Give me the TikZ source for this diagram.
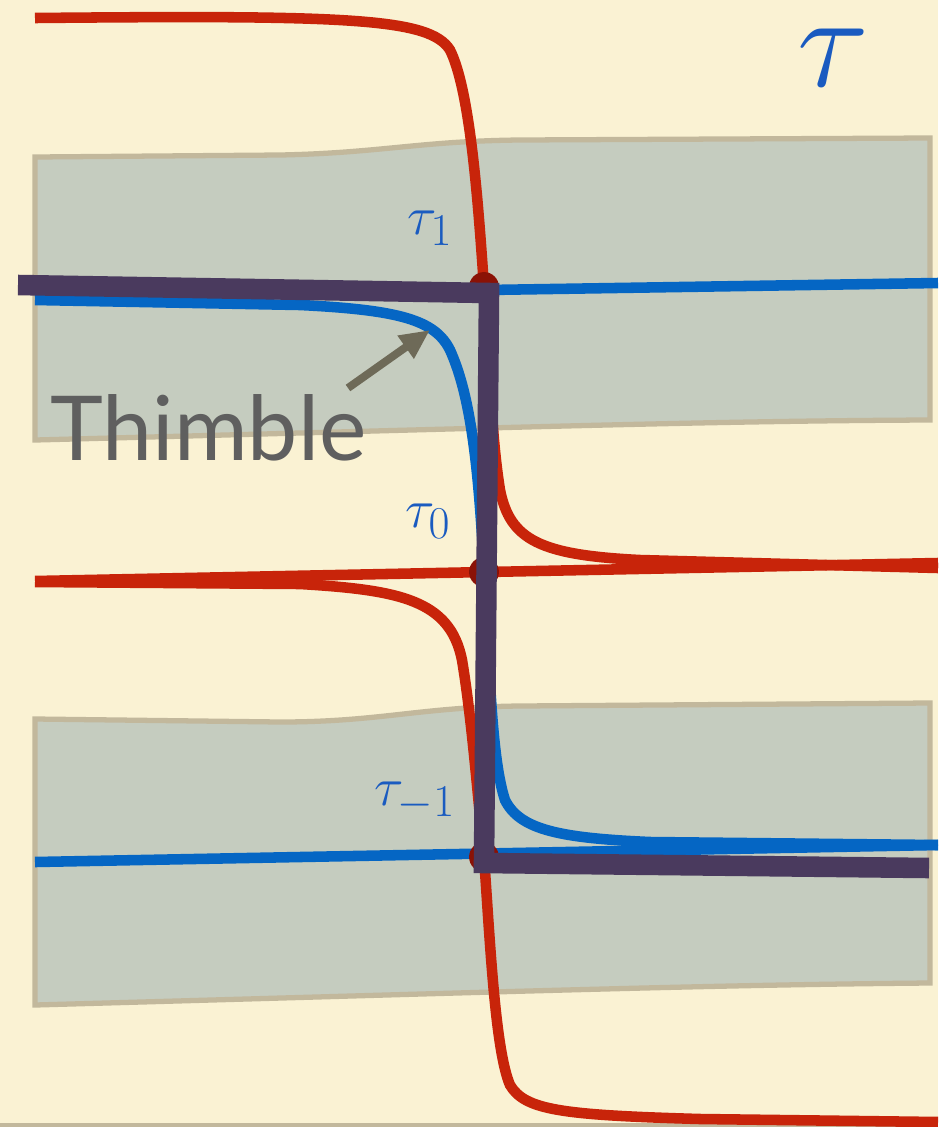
\documentclass[tikz,border=0pt]{standalone}
\usepackage{fontspec}
\usepackage{tikz}
\usetikzlibrary{arrows.meta}
\newfontfamily\thimblefont{Lato}
\definecolor{paperbg}{HTML}{FAF2D3}
\definecolor{bandfill}{HTML}{C5CCBF}
\definecolor{bandline}{HTML}{C2B89C}
\definecolor{flowred}{HTML}{C8240A}
\definecolor{flowblue}{HTML}{0566C4}
\definecolor{saddlered}{HTML}{8A1206}
\definecolor{cycleviolet}{HTML}{4A3A5E}
\definecolor{taublue}{HTML}{1A5BC0}
\definecolor{notegray}{HTML}{5F5F5F}
\definecolor{pointer}{HTML}{6E6A58}

\begin{document}
\begin{tikzpicture}[
  x=0.02cm, y=-0.02cm,
  band/.style={fill=bandfill, draw=bandline, line width=3pt, line join=miter},
  redCurve/.style={draw=flowred, line width=6pt},
  blueCurve/.style={draw=flowblue, line width=6pt},
  cycleLine/.style={draw=cycleviolet, line width=11.7pt, line join=miter, line cap=butt},
  saddle/.style={circle, fill=saddlered, inner sep=0pt, minimum size=17pt},
  tauLabel/.style={text=taublue, inner sep=0pt, font=\Huge, scale=1.25},
  arrow/.style={-{Triangle[length=17pt,width=15pt]}, line width=4.5pt, draw=pointer}
]
% Paper
\useasboundingbox (0,0) rectangle (938,1127);
\fill[paperbg] (0,0) rectangle (938,1127);
\fill[bandline] (0,1123) rectangle (938,1127);

% Strips
\draw[band] (35,157) -- (280,155) .. controls (380,153) and (420,141) .. (520,140)
  -- (930,138) -- (930,420) .. controls (700,421) and (500,428) .. (35,440) -- cycle;
\draw[band] (35,719) -- (280,722) .. controls (380,722) and (420,707) .. (520,706)
  -- (930,703) -- (930,983) .. controls (700,985) and (500,992) .. (35,1005) -- cycle;

% Red flows
\draw[redCurve] (35,18) .. controls (350,15) and (430,18) .. (450,50)
  .. controls (470,90) and (478,200) .. (484,287)
  .. controls (490,380) and (492,440) .. (500,490)
  .. controls (510,540) and (540,555) .. (640,560) -- (938,568);
\draw[redCurve] (35,581) -- (938,563);
\draw[redCurve] (35,582) -- (300,584) .. controls (400,590) and (450,600) .. (462,660)
  .. controls (472,720) and (478,800) .. (484,857)
  .. controls (490,940) and (495,1050) .. (510,1085)
  .. controls (525,1110) and (560,1115) .. (700,1119) -- (938,1122);

% Blue flows
\draw[blueCurve] (35,297) -- (938,283);
\draw[blueCurve] (35,300) -- (300,305) .. controls (400,310) and (435,320) .. (450,350)
  .. controls (468,390) and (478,450) .. (484,572)
  .. controls (490,680) and (492,760) .. (505,800)
  .. controls (520,830) and (560,838) .. (650,842) -- (938,845);
\draw[blueCurve] (35,862) -- (938,845);

% Saddles
\node[saddle] (t1) at (484,287) {};
\node[saddle] (t0) at (484,572) {};
\node[saddle] (tm1) at (484,857) {};

% Integration cycle
\draw[cycleLine] (18,285) -- (489,293) -- (484,863) -- (929,868);

% Labels
\node[tauLabel] (l1) at (430,228) {$\tau_1$};
\node[tauLabel] (l0) at (428,521) {$\tau_0$};
\node[tauLabel] (lm1) at (415,801) {$\tau_{-1}$};
\node[text=taublue, inner sep=0pt, font=\Huge, scale=3.05] (tau) at (833,58) {$\tau$};

\node[anchor=base west, inner sep=0pt, text=notegray, font=\thimblefont\fontsize{51}{51}\selectfont] (thimble) at (50,460) {Thimble};
\coordinate (foot) at (348,388);
\coordinate (tip) at (430,330);
\draw[arrow] (foot) -- (tip);

\end{tikzpicture}
\end{document}
